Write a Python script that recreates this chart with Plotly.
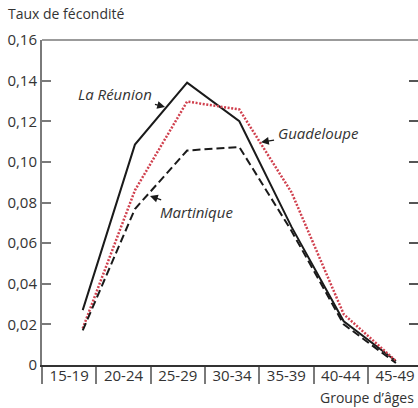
import plotly.graph_objects as go

AGE_GROUPS = ["15-19", "20-24", "25-29", "30-34", "35-39", "40-44", "45-49"]
REUNION = [0.027, 0.1085, 0.139, 0.120, 0.068, 0.0215, 0.002]
GUADELOUPE = [0.018, 0.086, 0.1297, 0.1258, 0.085, 0.025, 0.002]
MARTINIQUE = [0.017, 0.0768, 0.1056, 0.1073, 0.066, 0.020, 0.001]
Y_TICKS = [0, 0.02, 0.04, 0.06, 0.08, 0.10, 0.12, 0.14, 0.16]
Y_TICK_LABELS = ["0", "0,02", "0,04", "0,06", "0,08", "0,10", "0,12", "0,14", "0,16"]

FONT = "Open Sans"
TXT = "#333333"
GRAY = "#7a7a7a"

idx = list(range(len(AGE_GROUPS)))

fig = go.Figure()
fig.add_trace(go.Scatter(x=idx, y=REUNION, mode="lines", name="La Réunion",
                         line=dict(color="#1a1a1a", width=2)))
fig.add_trace(go.Scatter(x=idx, y=GUADELOUPE, mode="lines", name="Guadeloupe",
                         line=dict(color="#d0404e", width=2.5, dash="2px,1.6px")))
fig.add_trace(go.Scatter(x=idx, y=MARTINIQUE, mode="lines", name="Martinique",
                         line=dict(color="#1a1a1a", width=2, dash="8px,4px")))
# invisible traces so that the helper axes get drawn
fig.add_trace(go.Scatter(x=AGE_GROUPS, y=[None] * len(AGE_GROUPS), xaxis="x2",
                         mode="lines", showlegend=False, hoverinfo="skip"))
fig.add_trace(go.Scatter(x=[None], y=[None], xaxis="x3", showlegend=False,
                         hoverinfo="skip"))
fig.add_trace(go.Scatter(x=[None], y=[None], yaxis="y2", showlegend=False,
                         hoverinfo="skip"))

fig.update_layout(
    width=418, height=408,
    margin=dict(l=42, r=0, t=40, b=43, autoexpand=False),
    paper_bgcolor="white", plot_bgcolor="white",
    showlegend=False,
    font=dict(family=FONT, size=15, color=TXT),
    xaxis=dict(range=[-0.78, 6.423], showticklabels=False, ticks="",
               showgrid=False, zeroline=False, showline=False, automargin=False),
    xaxis2=dict(type="category", overlaying="x", anchor="y", side="bottom",
                categoryorder="array", categoryarray=AGE_GROUPS,
                range=[-0.5, 6.424], tickson="boundaries", ticks="outside",
                ticklen=17, tickwidth=1.5, tickcolor=GRAY,
                showticklabels=False, showgrid=False, zeroline=False,
                showline=True, linecolor="#333333", linewidth=2, automargin=False),
    xaxis3=dict(overlaying="x", anchor="y", side="bottom",
                range=[-0.5, 6.424], tickvals=idx, ticktext=AGE_GROUPS,
                ticks="", showgrid=False, zeroline=False, showline=False,
                tickfont=dict(size=15, color=TXT), automargin=False),
    yaxis=dict(range=[0, 0.16], tickvals=Y_TICKS, ticktext=Y_TICK_LABELS,
               ticks="inside", ticklen=9, tickwidth=1.5, tickcolor=GRAY,
               showgrid=False, zeroline=False, showline=True,
               linecolor=GRAY, linewidth=2, tickfont=dict(size=15, color=TXT),
               automargin=False),
    yaxis2=dict(range=[0, 0.16], overlaying="y", side="right", anchor="x",
                tickvals=Y_TICKS[1:-1], ticks="inside", ticklen=9,
                tickwidth=1.5, tickcolor="#555555", showticklabels=False,
                showgrid=False, zeroline=False, showline=False, automargin=False),
)

# top frame line
fig.add_shape(type="line", xref="paper", yref="paper", x0=0, x1=1, y0=1, y1=1,
              line=dict(color=GRAY, width=1.5))

fig.add_annotation(xref="paper", yref="paper", x=-0.0957, y=1.08,
                   xanchor="left", yanchor="middle", showarrow=False,
                   text="Taux de fécondité", font=dict(size=14, color=TXT))
fig.add_annotation(xref="paper", yref="paper", x=0.9947, y=-0.1015,
                   xanchor="right", yanchor="middle", showarrow=False,
                   text="Groupe d’âges", font=dict(size=14, color=TXT))

arrow_kw = dict(showarrow=True, arrowhead=2, arrowsize=1.3, arrowwidth=1.2,
                arrowcolor="#1a1a1a", standoff=0, startstandoff=2,
                font=dict(size=15, color=TXT))
fig.add_annotation(x=1.577, y=0.127, ax=-50.5, ay=-13,
                   text="<i>La Réunion</i>", **arrow_kw)
fig.add_annotation(x=3.416, y=0.1097, ax=57, ay=-9,
                   text="<i>Guadeloupe</i>", **arrow_kw)
fig.add_annotation(x=1.289, y=0.0832, ax=46.5, ay=16,
                   text="<i>Martinique</i>", **arrow_kw)

fig.write_html("out.html", config={"displayModeBar": False},
               post_script="document.body.style.margin='0';")
